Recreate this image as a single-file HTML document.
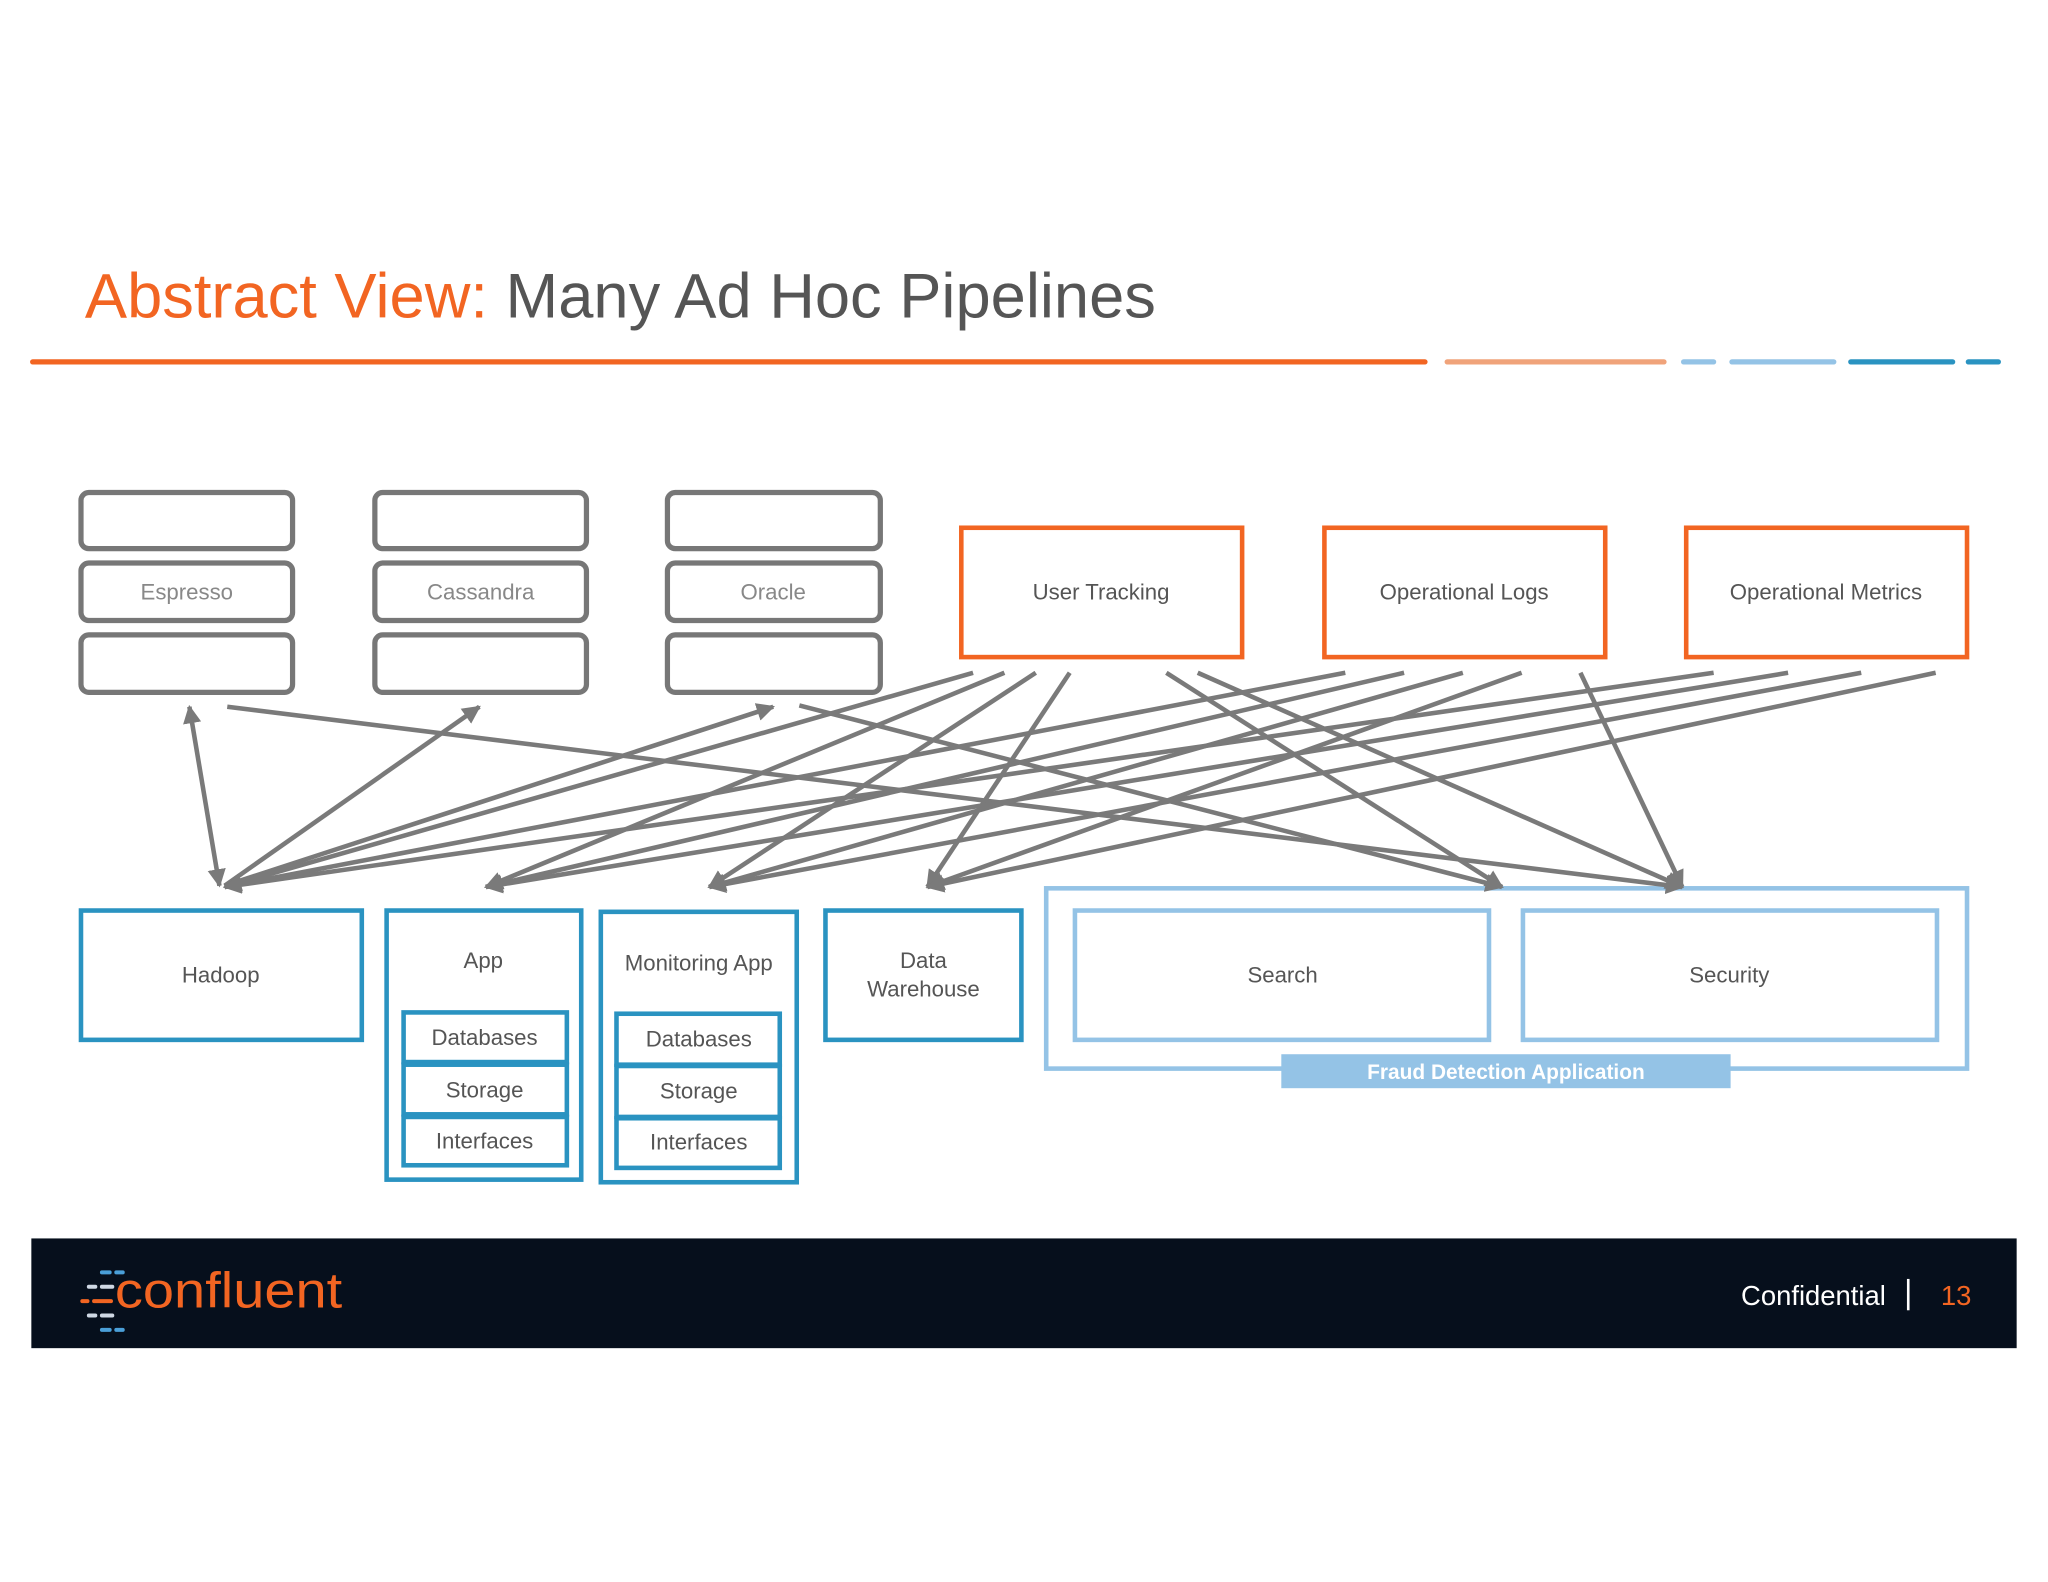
<!DOCTYPE html>
<html><head><meta charset="utf-8"><style>
html,body{margin:0;padding:0;background:#fff;}
svg{display:block;}
text{font-family:"Liberation Sans",sans-serif;}
</style></head><body>
<svg width="2048" height="1582" viewBox="0 0 1568 1211" preserveAspectRatio="none" xmlns="http://www.w3.org/2000/svg">
<defs>
<marker id="ah" viewBox="0 0 10 10" refX="9" refY="5" markerWidth="4" markerHeight="4" orient="auto-start-reverse" markerUnits="strokeWidth">
<path d="M0,0 L10,5 L0,10 z" fill="#7a7a7a"/></marker>
</defs>
<rect width="1568" height="1211" fill="#fff"/>
<text x="65" y="243" font-size="48" fill="#f26522" textLength="820" lengthAdjust="spacingAndGlyphs">Abstract View: <tspan fill="#555">Many Ad Hoc Pipelines</tspan></text>
<g stroke-width="4" stroke-linecap="round">
<line x1="25" y1="277" x2="1091" y2="277" stroke="#f26522"/>
<line x1="1108" y1="277" x2="1274" y2="277" stroke="#f0a37a"/>
<line x1="1289" y1="277" x2="1312" y2="277" stroke="#94c3e6"/>
<line x1="1326" y1="277" x2="1404" y2="277" stroke="#94c3e6"/>
<line x1="1417" y1="277" x2="1495" y2="277" stroke="#2a93c1"/>
<line x1="1507" y1="277" x2="1530" y2="277" stroke="#2a93c1"/>
</g>
<g fill="#fff" stroke="#777" stroke-width="4">
<rect x="62" y="377" width="162" height="43" rx="6"/><rect x="62" y="431" width="162" height="44" rx="6"/><rect x="62" y="486" width="162" height="44" rx="6"/>
<rect x="287" y="377" width="162" height="43" rx="6"/><rect x="287" y="431" width="162" height="44" rx="6"/><rect x="287" y="486" width="162" height="44" rx="6"/>
<rect x="511" y="377" width="163" height="43" rx="6"/><rect x="511" y="431" width="163" height="44" rx="6"/><rect x="511" y="486" width="163" height="44" rx="6"/>
</g>
<g font-size="17" fill="#888" text-anchor="middle">
<text x="143" y="459">Espresso</text><text x="368" y="459">Cassandra</text><text x="592" y="459">Oracle</text>
</g>
<g fill="#fff" stroke="#f26522" stroke-width="3.5">
<rect x="736" y="404" width="215" height="99"/><rect x="1014" y="404" width="215" height="99"/><rect x="1291" y="404" width="215" height="99"/>
</g>
<g font-size="17" fill="#555" text-anchor="middle">
<text x="843" y="459">User Tracking</text><text x="1121" y="459">Operational Logs</text><text x="1398" y="459">Operational Metrics</text>
</g>
<g fill="#fff" stroke="#2a93c1" stroke-width="3.5">
<rect x="62" y="697" width="215" height="99"/>
<rect x="296" y="697" width="149" height="206"/>
<rect x="309" y="775" width="125" height="38"/><rect x="309" y="815" width="125" height="38"/><rect x="309" y="855" width="125" height="37"/>
<rect x="460" y="698" width="150" height="207"/>
<rect x="472" y="776" width="125" height="39"/><rect x="472" y="816" width="125" height="39"/><rect x="472" y="856" width="125" height="38"/>
<rect x="632" y="697" width="150" height="99"/>
</g>
<g fill="none" stroke="#94c3e6" stroke-width="3.5">
<rect x="801" y="680" width="705" height="138"/>
<rect x="823" y="697" width="317" height="99"/><rect x="1166" y="697" width="317" height="99"/>
</g>
<rect x="981" y="807" width="344" height="26" fill="#94c3e6"/>
<text x="1153" y="826" font-size="16" font-weight="bold" fill="#fff" text-anchor="middle">Fraud Detection Application</text>
<g font-size="17" fill="#555" text-anchor="middle">
<text x="169" y="752">Hadoop</text><text x="370" y="741">App</text>
<text x="371" y="800">Databases</text><text x="371" y="840">Storage</text><text x="371" y="879">Interfaces</text>
<text x="535" y="743">Monitoring App</text>
<text x="535" y="801">Databases</text><text x="535" y="841">Storage</text><text x="535" y="880">Interfaces</text>
<text x="707" y="741">Data</text><text x="707" y="763">Warehouse</text>
<text x="982" y="752">Search</text><text x="1324" y="752">Security</text>
</g>
<g stroke="#7a7a7a" stroke-width="3.5" fill="none" marker-end="url(#ah)">
<line x1="168" y1="678" x2="145" y2="541" marker-start="url(#ah)"/>
<line x1="172" y1="678" x2="367" y2="541"/>
<line x1="172" y1="678" x2="592" y2="541"/>
<line x1="174" y1="541" x2="1288" y2="679"/>
<line x1="612" y1="540" x2="1150" y2="679"/>
<line x1="745" y1="515" x2="172" y2="679"/>
<line x1="769" y1="515" x2="372" y2="679"/>
<line x1="793" y1="515" x2="543" y2="679"/>
<line x1="819" y1="515" x2="710" y2="679"/>
<line x1="893" y1="515" x2="1150" y2="679"/>
<line x1="917" y1="515" x2="1288" y2="679"/>
<line x1="1030" y1="515" x2="172" y2="679"/>
<line x1="1075" y1="515" x2="372" y2="679"/>
<line x1="1120" y1="515" x2="543" y2="679"/>
<line x1="1165" y1="515" x2="710" y2="679"/>
<line x1="1210" y1="515" x2="1288" y2="679"/>
<line x1="1312" y1="515" x2="172" y2="679"/>
<line x1="1369" y1="515" x2="372" y2="679"/>
<line x1="1425" y1="515" x2="543" y2="679"/>
<line x1="1482" y1="515" x2="710" y2="679"/>
</g>
<rect x="24" y="948" width="1520" height="84" fill="#060f1c"/>
<g stroke-width="3" stroke-linecap="round">
<line x1="78" y1="974" x2="84" y2="974" stroke="#4a9fd8"/><line x1="89" y1="974" x2="94" y2="974" stroke="#4a9fd8"/>
<line x1="68" y1="985" x2="73" y2="985" stroke="#cfd8e4"/><line x1="78" y1="985" x2="86" y2="985" stroke="#cfd8e4"/>
<line x1="63" y1="996" x2="67" y2="996" stroke="#f26522"/><line x1="72" y1="996" x2="85" y2="996" stroke="#f26522"/>
<line x1="68" y1="1007" x2="73" y2="1007" stroke="#cfd8e4"/><line x1="78" y1="1007" x2="86" y2="1007" stroke="#cfd8e4"/>
<line x1="78" y1="1018" x2="84" y2="1018" stroke="#4a9fd8"/><line x1="89" y1="1018" x2="94" y2="1018" stroke="#4a9fd8"/>
</g>
<text x="88" y="1001" font-size="38" fill="#f26522" textLength="174" lengthAdjust="spacingAndGlyphs">confluent</text>
<text x="1333" y="999" font-size="21" fill="#fff">Confidential</text>
<line x1="1461" y1="979" x2="1461" y2="1003" stroke="#fff" stroke-width="2"/>
<text x="1486" y="999" font-size="21" fill="#f26522">13</text>
</svg>
</body></html>
